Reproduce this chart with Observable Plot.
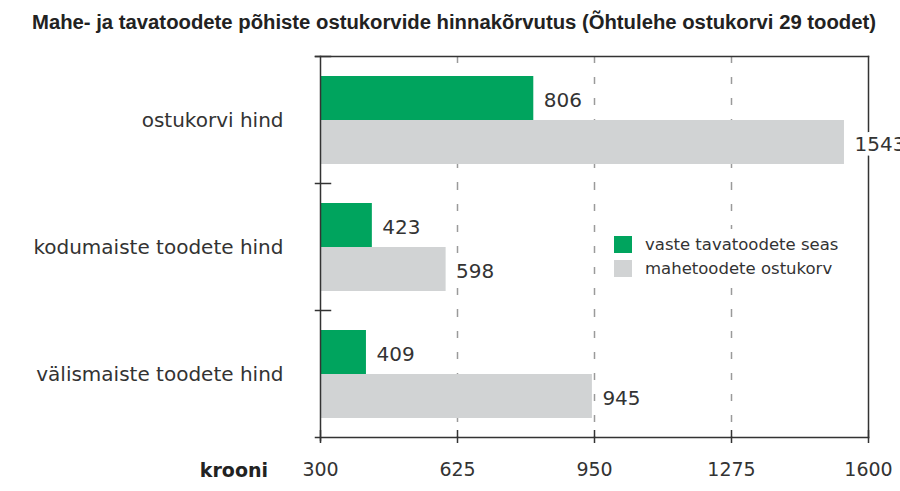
<!DOCTYPE html>
<html><head><meta charset="utf-8">
<script src="https://cdn.jsdelivr.net/npm/d3@7"></script>
<script src="https://cdn.jsdelivr.net/npm/@observablehq/plot@0.6"></script>
<style>
body{margin:0;background:#fff;}
#wrap{position:relative;width:900px;height:491px;overflow:hidden;background:#fff;}
#chart{position:absolute;left:0;top:0;}
#title{position:absolute;left:32px;top:11px;font:bold 20.3px "Liberation Sans",Arial,sans-serif;color:#222;white-space:nowrap;}
#unit{position:absolute;right:632px;top:459px;font:bold 19px "DejaVu Sans",sans-serif;color:#222;}
#legend{position:absolute;left:606px;top:229px;width:240px;height:53px;background:#fff;font:16.5px "DejaVu Sans",sans-serif;color:#333;}
.item{position:absolute;left:8px;height:18px;line-height:18px;white-space:nowrap;}
.sw{display:inline-block;width:18px;height:17px;vertical-align:top;margin-right:13px;}
</style></head><body>
<div id="wrap"><div id="chart"></div><div id="title"></div><div id="unit"></div><div id="legend"></div></div>
<script>
const titleText = "Mahe- ja tavatoodete põhiste ostukorvide hinnakõrvutus (Õhtulehe ostukorvi 29 toodet)";
const unitLabel = "krooni";
const categories = ["ostukorvi hind", "kodumaiste toodete hind", "välismaiste toodete hind"];
const series = ["vaste tavatoodete seas", "mahetoodete ostukorv"];
const conventional = [806, 423, 409];
const organic = [1543, 598, 945];
const xTicks = [300, 625, 950, 1275, 1600];
const gridTicks = [625, 950, 1275];
const colors = ["#00a45e", "#d1d3d4"];

const data = categories.flatMap((c, i) => [
  {category: c, series: series[0], value: conventional[i]},
  {category: c, series: series[1], value: organic[i]}
]);
const lastCat = categories[categories.length - 1];
const tickData = xTicks.map(v => ({v, cat: lastCat}));

const chart = Plot.plot({
  width: 900, height: 491,
  marginTop: 56, marginBottom: 54, marginLeft: 320, marginRight: 32,
  style: {fontFamily: "DejaVu Sans, sans-serif", fontSize: "19px", color: "#333", background: "transparent", overflow: "visible"},
  x: {domain: [300, 1600]},
  y: {domain: series, paddingInner: 0, paddingOuter: 0.44, axis: null},
  fy: {domain: categories, padding: 0},
  color: {domain: series, range: colors},
  marks: [
    Plot.ruleX(gridTicks, {x: d => d, stroke: "#9a9a9a", strokeWidth: 1.5, strokeDasharray: "7,14"}),
    Plot.barX(data, {x1: 300, x2: "value", y: "series", fy: "category", fill: "series"}),
    Plot.frame({anchor: "top", facet: "super", insetLeft: -5, stroke: "#333", strokeWidth: 1.5}),
    Plot.frame({anchor: "left", facet: "super", insetBottom: -3, stroke: "#333", strokeWidth: 1.5}),
    Plot.frame({anchor: "right", facet: "super", stroke: "#333", strokeWidth: 1.5}),
    Plot.frame({anchor: "bottom", facet: "super", insetLeft: -5, stroke: "#333", strokeWidth: 1.5}),
    Plot.frame({anchor: "top", insetLeft: -5, insetRight: 538, stroke: "#333", strokeWidth: 1.5}),
    Plot.tickX(tickData, {x: "v", fy: "cat", insetTop: 120, stroke: "#333", strokeWidth: 1.5}),
    Plot.text(data, {x: "value", y: "series", fy: "category", text: d => String(d.value), textAnchor: "start", dx: 10, dy: 2, fill: "#333", stroke: "white", strokeWidth: 10, fontSize: 20}),
    Plot.axisX({ticks: xTicks, tickSize: 6, tickPadding: 19, fontSize: 19, label: null, stroke: "#333", strokeWidth: 1.5, fill: "#333", tickFormat: d => String(d)}),
    Plot.axisFy({anchor: "left", tickSize: 0, tickPadding: 37, fontSize: 20, label: null, fill: "#333", dy: 1})
  ]
});
document.getElementById("chart").appendChild(chart);
document.getElementById("title").textContent = titleText;
document.getElementById("unit").textContent = unitLabel;
const leg = document.getElementById("legend");
series.forEach((s, i) => {
  const it = document.createElement("div");
  it.className = "item";
  it.style.top = (7 + i * 24) + "px";
  const sw = document.createElement("span");
  sw.className = "sw";
  sw.style.background = colors[i];
  it.appendChild(sw);
  it.appendChild(document.createTextNode(s));
  leg.appendChild(it);
});
</script>
</body></html>
